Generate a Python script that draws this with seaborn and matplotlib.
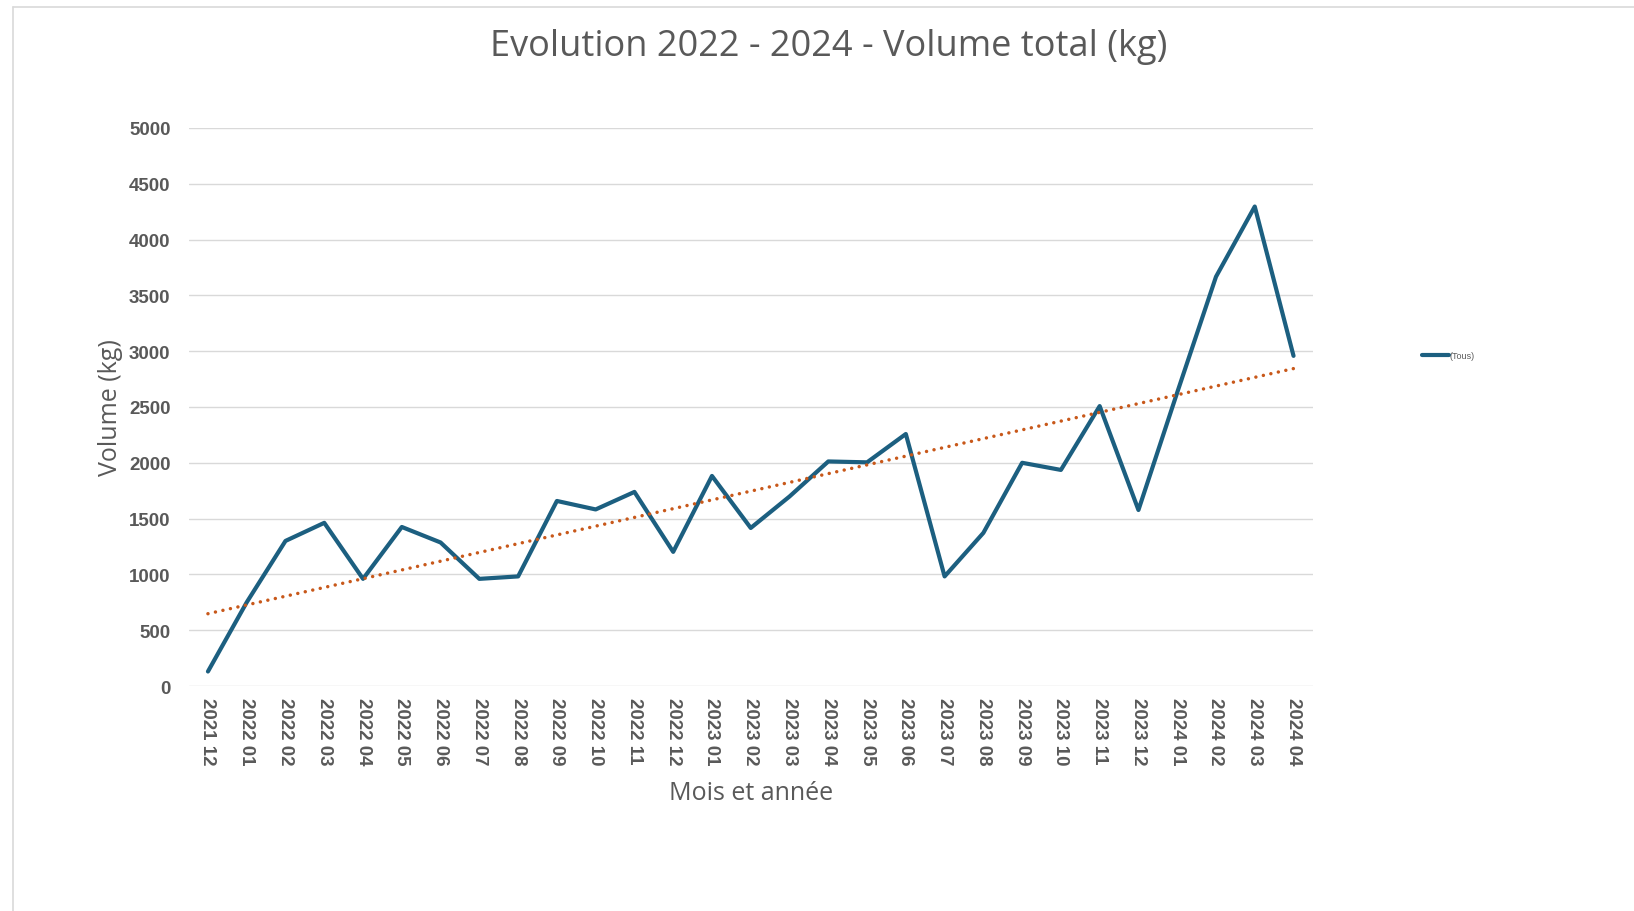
import numpy as np
import pandas as pd
import matplotlib.pyplot as plt
import seaborn as sns
from matplotlib.lines import Line2D

sns.set_theme(style="white")
plt.rcParams["font.family"] = ["Liberation Sans", "DejaVu Sans"]

# DATA
months = ["2021 12", "2022 01", "2022 02", "2022 03", "2022 04", "2022 05",
          "2022 06", "2022 07", "2022 08", "2022 09", "2022 10", "2022 11",
          "2022 12", "2023 01", "2023 02", "2023 03", "2023 04", "2023 05",
          "2023 06", "2023 07", "2023 08", "2023 09", "2023 10", "2023 11",
          "2023 12", "2024 01", "2024 02", "2024 03", "2024 04"]
volume = [130, 750, 1300, 1462, 960, 1425, 1286, 960, 982, 1658,
          1582, 1739, 1202, 1882, 1416, 1698, 2012, 2004, 2258, 982,
          1372, 2000, 1936, 2508, 1577, 2630, 3667, 4296, 2958]
y_ticks = [0, 500, 1000, 1500, 2000, 2500, 3000, 3500, 4000, 4500, 5000]

df = pd.DataFrame({"mois": months, "volume": volume})
df["idx"] = np.arange(len(df))

# linear trend line (like the Excel trendline)
slope, intercept = np.polyfit(df["idx"], df["volume"], 1)
df["trend"] = slope * df["idx"] + intercept

TEXT = "#595959"
BLUE = "#1c5f80"
ORANGE = "#c8581a"

fig = plt.figure(figsize=(16.34, 9.12), dpi=100)
ax = fig.add_axes([0.1154, 0.2467, 0.6881, 0.6119])

sns.lineplot(data=df, x="idx", y="volume", color=BLUE, linewidth=3.0,
             ax=ax, legend=False)
sns.lineplot(data=df, x="idx", y="trend", color=ORANGE, linewidth=2.5,
             linestyle=(0, (0.01, 2.2)), dash_capstyle="round", ax=ax,
             legend=False)

ax.set_xlim(-0.5, len(months) - 0.5)
ax.set_ylim(0, 5000)
ax.set_yticks(y_ticks)
ax.set_yticklabels([str(v) for v in y_ticks], fontsize=13.5,
                   fontweight="bold", color=TEXT)
ax.set_xticks(df["idx"])
ax.set_xticklabels(months, rotation=270, fontsize=13.5, fontweight="bold",
                   color=TEXT)
ax.tick_params(axis="both", length=0)
ax.tick_params(axis="y", pad=13)
ax.tick_params(axis="x", pad=8)
ax.grid(axis="y", color="#d9d9d9", linewidth=1.0)
ax.set_axisbelow(True)
for s in ax.spines.values():
    s.set_visible(False)

ax.set_xlabel("Mois et année", fontsize=18, color=TEXT, family="Open Sans",
              labelpad=11)
ax.set_ylabel("Volume (kg)", fontsize=18, color=TEXT, family="Open Sans",
              labelpad=4)

fig.text(0.507, 0.949, "Evolution 2022 - 2024 - Volume total (kg)",
         ha="center", va="center", fontsize=26, color=TEXT, family="Open Sans")

# legend on the right
leg = fig.legend(handles=[Line2D([], [], color=BLUE, linewidth=3.0)],
                 labels=["(Tous)"], loc="center left",
                 bbox_to_anchor=(0.865, 0.609), frameon=False, fontsize=6.5,
                 handlelength=3.0, handletextpad=0.1, labelcolor=TEXT)

# light border of the chart container
fig.add_artist(Line2D([0.0078, 1.0], [0.991, 0.991], color="#d9d9d9",
                      linewidth=1.2, transform=fig.transFigure))
fig.add_artist(Line2D([0.0078, 0.0078], [0.0, 0.991], color="#d9d9d9",
                      linewidth=1.2, transform=fig.transFigure))

plt.savefig("out.png", dpi=100)
